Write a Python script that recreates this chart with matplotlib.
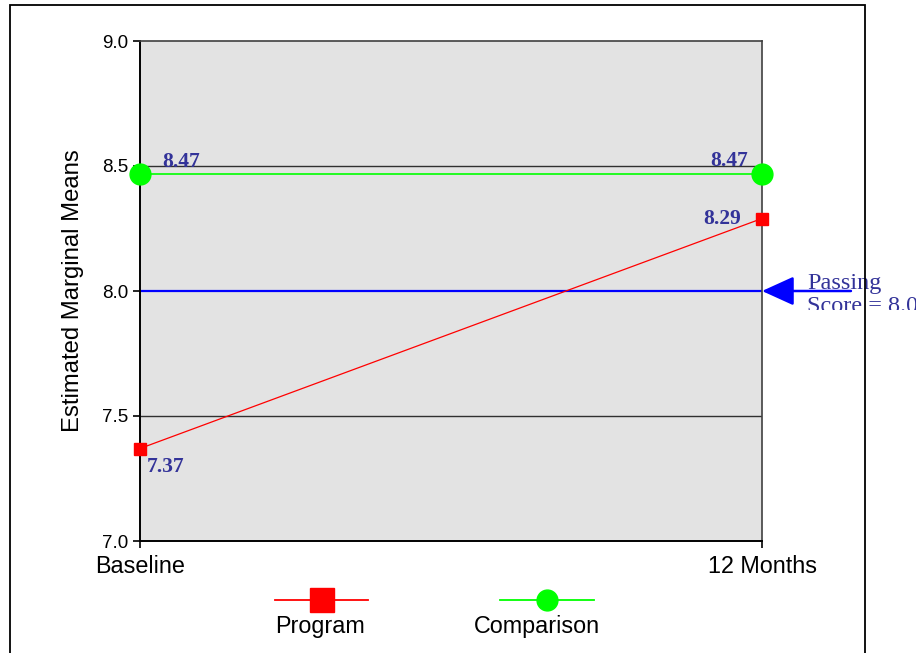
import matplotlib.pyplot as plt
from matplotlib.lines import Line2D
from matplotlib.patches import Rectangle
from matplotlib.transforms import Bbox, TransformedBbox

# data
time_points = ['Baseline', '12 Months']
program = [7.37, 8.29]
comparison = [8.47, 8.47]
passing_score = 8.0
y_ticks = [7.0, 7.5, 8.0, 8.5, 9.0]

label_color = '#333399'
sans = ['Liberation Sans', 'DejaVu Sans']
serif = ['Liberation Serif', 'DejaVu Serif']

W, H = 916, 653
fig = plt.figure(figsize=(W / 100, H / 100), dpi=100)
ax = fig.add_axes([140 / W, 1 - 541 / H, 622 / W, 500 / H])
ax.set_facecolor('#e3e3e3')

x = range(len(time_points))

# passing score line and gridlines
ax.axhline(passing_score, color='#0000ff', lw=1.6, zorder=2)
for yv in [7.5, 8.5]:
    ax.axhline(yv, color='#303030', lw=1.0, zorder=1)

ax.plot(x, program, color='#ff0000', lw=0.9, marker='s', ms=9,
        mec='#ff0000', clip_on=False, zorder=4)
ax.plot(x, comparison, color='#00ff00', lw=1.2, marker='o', ms=15,
        mec='#00ff00', clip_on=False, zorder=4)

ax.set_xlim(0, 1)
ax.set_ylim(7.0, 9.0)
ax.set_xticks(list(x))
ax.set_xticklabels(time_points, family=sans, fontsize=16.8)
ax.set_yticks(y_ticks)
ax.set_yticklabels([f'{v:.1f}' for v in y_ticks], family=sans, fontsize=13.5)
ax.tick_params(axis='both', direction='out', length=5, width=1.2, color='black')
ax.tick_params(axis='x', pad=5)
ax.set_ylabel('Estimated Marginal Means', family=sans, fontsize=17.2, labelpad=13)

for side in ['left', 'bottom']:
    ax.spines[side].set_color('black')
    ax.spines[side].set_linewidth(1.4)
for side in ['top', 'right']:
    ax.spines[side].set_color('#404040')
    ax.spines[side].set_linewidth(1.2)

# value labels
lbl = dict(family=serif, fontsize=15.5, fontweight='bold', color=label_color,
           textcoords='offset points', annotation_clip=False, zorder=5)
ax.annotate(f'{comparison[0]:.2f}', (0, comparison[0]), xytext=(16, 1),
            ha='left', va='bottom', **lbl)
ax.annotate(f'{comparison[1]:.2f}', (1, comparison[1]), xytext=(-10, 2),
            ha='right', va='bottom', **lbl)
ax.annotate(f'{program[1]:.2f}', (1, program[1]), xytext=(-15, 0),
            ha='right', va='center', **lbl)
ax.annotate(f'{program[0]:.2f}', (0, program[0]), xytext=(5, -6),
            ha='left', va='top', **lbl)

# arrow pointing at the passing score
ax.annotate('', xy=(1.0, passing_score), xytext=(1.143, passing_score),
            arrowprops=dict(arrowstyle='-|>,head_length=1.1,head_width=0.5',
                            color='#0000ff', lw=1.8, mutation_scale=18,
                            shrinkA=0, shrinkB=0),
            annotation_clip=False, zorder=5)

# note text, cut off partway through its second row
note = ax.text(1.072, passing_score + 0.072, f'Passing\nScore = {passing_score:.1f}',
               family=serif, fontsize=17.5, color=label_color, ha='left',
               va='top', linespacing=1.1, clip_on=True)
note.set_clip_box(TransformedBbox(Bbox([[0, 1 - 310 / H], [1, 1]]), fig.transFigure))

# legend with labels under the symbols
leg_y = 1 - 600 / H
for x0, x1, xc, tx, col, mk, ms, name in [
        (275, 368, 322, 320, '#ff0000', 's', 17, 'Program'),
        (500, 594, 547, 537, '#00ff00', 'o', 15, 'Comparison')]:
    fig.add_artist(Line2D([x0 / W, x1 / W], [leg_y, leg_y], color=col, lw=1.3,
                          transform=fig.transFigure))
    fig.add_artist(Line2D([xc / W], [leg_y], marker=mk, ms=ms, color=col,
                          mec=col, transform=fig.transFigure))
    fig.text(tx / W, 1 - 626 / H, name, family=sans, fontsize=16.8,
             ha='center', va='center')

# outer frame
fig.add_artist(Rectangle((10 / W, -0.1), 855 / W, 1.1 - 5 / H, fill=False,
                         ec='black', lw=1.3, transform=fig.transFigure,
                         clip_on=False))

fig.savefig('out.png', dpi=100)
